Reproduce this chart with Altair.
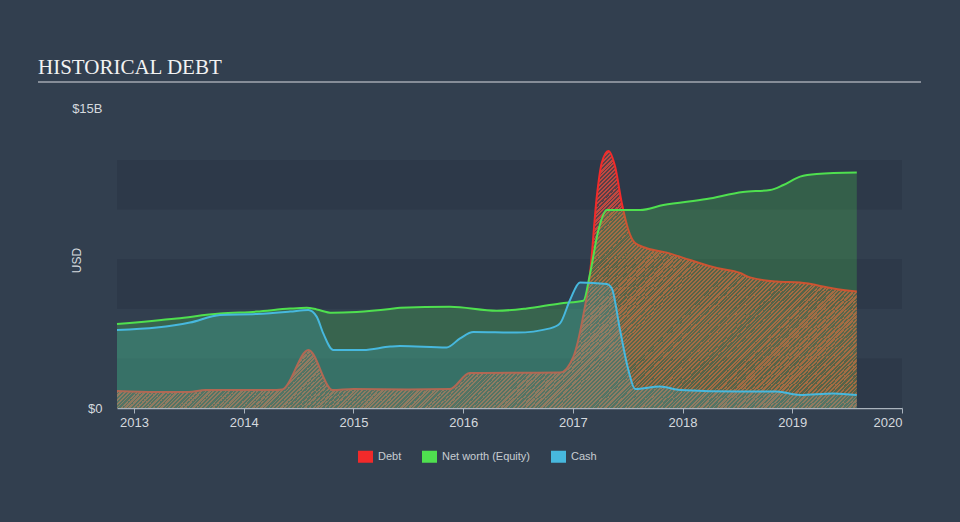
import altair as alt
import pandas as pd

# ---- data (values in USD billions, x in fractional years) ----
debt_years = [2012.845, 2013.2, 2013.5, 2013.65, 2014.3, 2014.35, 2014.59, 2014.81,
              2015.0, 2015.5, 2015.88, 2016.06, 2016.5, 2016.883, 2017.005, 2017.093,
              2017.157, 2017.218, 2017.263, 2017.324, 2017.385, 2017.446, 2017.506,
              2017.567, 2017.674, 2017.856, 2018.068, 2018.312, 2018.524, 2018.615,
              2018.858, 2019.07, 2019.375, 2019.588]
debt_values = [0.85, 0.8, 0.8, 0.9, 0.9, 0.92, 2.9, 0.9,
               0.95, 0.93, 0.95, 1.75, 1.76, 1.77, 2.57, 4.57,
               6.75, 10.57, 12.25, 12.85, 12.07, 10.25, 8.9,
               8.25, 7.99, 7.77, 7.4, 7.0, 6.75, 6.53,
               6.32, 6.27, 5.98, 5.82]

equity_years = [2012.845, 2013.389, 2013.784, 2014.118, 2014.422, 2014.574, 2014.665,
                2014.802, 2015.03, 2015.334, 2015.425, 2015.88, 2016.306, 2016.58,
                2016.883, 2017.096, 2017.157, 2017.233, 2017.309, 2017.613, 2017.825,
                2018.22, 2018.55, 2018.798, 2018.919, 2019.071, 2019.223, 2019.588]
equity_values = [4.2, 4.48, 4.72, 4.82, 4.97, 5.01, 4.93,
                 4.76, 4.8, 4.95, 5.01, 5.06, 4.86, 4.98,
                 5.23, 5.36, 6.73, 8.9, 9.9, 9.9, 10.15,
                 10.45, 10.8, 10.9, 11.15, 11.57, 11.7, 11.77]

cash_years = [2012.845, 2013.207, 2013.51, 2013.784, 2014.118, 2014.422, 2014.589,
              2014.665, 2014.725, 2014.816, 2015.09, 2015.334, 2015.425, 2015.85,
              2015.972, 2016.093, 2016.489, 2016.793, 2016.883, 2016.974, 2017.065,
              2017.309, 2017.355, 2017.43, 2017.506, 2017.567, 2017.795, 2017.977,
              2018.524, 2018.857, 2019.07, 2019.374, 2019.588]
cash_values = [3.9, 4.02, 4.27, 4.65, 4.7, 4.82, 4.9,
               4.57, 3.73, 2.9, 2.9, 3.07, 3.1, 3.03,
               3.48, 3.8, 3.77, 3.98, 4.23, 5.4, 6.28,
               6.2, 5.98, 3.9, 1.9, 0.95, 1.07, 0.9,
               0.82, 0.82, 0.65, 0.73, 0.65]

series_names = ["Debt", "Net worth (Equity)", "Cash"]
series_colors = ["#f22a2a", "#4fe04f", "#47b8de"]
year_ticks = [2013, 2014, 2015, 2016, 2017, 2018, 2019, 2020]
y_ticks = [0, 15]
band_low = [0, 4.96, 9.92]
band_high = [2.48, 7.44, 12.4]

rows = []
for name, xs, vs in zip(series_names,
                        [debt_years, equity_years, cash_years],
                        [debt_values, equity_values, cash_values]):
    for xv, vv in zip(xs, vs):
        rows.append({"year": xv, "value": vv, "series": name})
df = pd.DataFrame(rows)
bands_df = pd.DataFrame({"low": band_low, "high": band_high})
title_df = pd.DataFrame({"t": ["HISTORICAL DEBT"]})

W, H = 785, 300
FONT = "Liberation Sans"
X_MIN, X_MAX, Y_MAX = 2012.845, 2020.0, 15

# ---- diagonal hatch for the debt area (a striped linear gradient) ----
# gradient coordinates are relative to the area's bounding box
bbox_w = (max(debt_years) - min(debt_years)) / (X_MAX - X_MIN) * W
bbox_h = max(debt_values) / Y_MAX * H
aspect = bbox_h / bbox_w
gx2 = (1 + aspect) / (1 + aspect ** 2)
gy2 = aspect * gx2
span_px = bbox_w + bbox_h          # horizontal pixels covered by t in [0, 1]
PERIOD_PX = 4.0
STRIPE = "rgba(232,78,62,0.78)"
GAP = "rgba(232,78,62,0.24)"
stops = []
t = 0.0
step = PERIOD_PX / span_px
while t < 1.0:
    t1 = min(t + 0.5 * step, 1.0)
    t2 = min(t + step, 1.0)
    stops += [alt.GradientStop(offset=t, color=STRIPE),
              alt.GradientStop(offset=t1, color=STRIPE),
              alt.GradientStop(offset=t1, color=GAP),
              alt.GradientStop(offset=t2, color=GAP)]
    t += step
hatch = alt.LinearGradient(gradient="linear", stops=stops,
                           x1=0, y1=0, x2=gx2, y2=gy2)

xscale = alt.Scale(domain=[X_MIN, X_MAX], nice=False, zero=False)
yscale = alt.Scale(domain=[0, Y_MAX], nice=False)

xaxis = alt.Axis(values=year_ticks, format="d", grid=False, domainColor="#aab3bd",
                 domainWidth=1.5, tickColor="#aab3bd", tickSize=5, tickWidth=1,
                 labelFontSize=13, labelColor="#d5d9de", labelFont=FONT,
                 labelPadding=3, labelFlush=True, title=None)
yaxis = alt.Axis(values=y_ticks,
                 labelExpr="datum.value == 0 ? '$0' : '$' + datum.value + 'B'",
                 domain=False, ticks=False, grid=False, labelPadding=15,
                 labelFontSize=13, labelColor="#d5d9de", labelFont=FONT,
                 title="USD", titleFont=FONT, titleFontSize=12,
                 titleFontWeight="normal", titleColor="#d5d9de",
                 titleX=-34, titleY=152, titleAngle=270, titleAlign="center")

X = alt.X("year:Q", scale=xscale, axis=xaxis)
Y = alt.Y("value:Q", scale=yscale, axis=yaxis)

legend = alt.Legend(title=None, orient="none", legendX=241, legendY=341,
                    direction="horizontal",
                    symbolType="M-1,-0.8L1,-0.8L1,0.8L-1,0.8Z", symbolSize=225,
                    symbolOpacity=1, symbolStrokeWidth=0,
                    labelFont=FONT, labelFontSize=11, labelColor="#c8cdd2",
                    labelOffset=5, columnPadding=20, padding=0)
cscale = alt.Scale(domain=series_names, range=series_colors)
color_legend = alt.Color("series:N", scale=cscale, legend=legend)

base = alt.Chart(df)

bands = alt.Chart(bands_df).mark_rect(color="#2d3949").encode(
    x=alt.value(0), x2=alt.value(W),
    y=alt.Y("low:Q", scale=yscale, axis=yaxis), y2="high:Q")

# invisible filled points that carry the legend
legend_layer = base.mark_point(filled=True, opacity=0).encode(
    x=X, y=Y, color=color_legend)

debt_area = base.transform_filter(alt.datum.series == "Debt").mark_area(
    interpolate="monotone", fill=hatch, opacity=1).encode(x=X, y=Y)
debt_line = base.transform_filter(alt.datum.series == "Debt").mark_line(
    interpolate="monotone", strokeWidth=2).encode(x=X, y=Y, color=color_legend)
eq_area = base.transform_filter(alt.datum.series == "Net worth (Equity)").mark_area(
    interpolate="monotone", opacity=0.23).encode(x=X, y=Y, color=color_legend)
cash_area = base.transform_filter(alt.datum.series == "Cash").mark_area(
    interpolate="monotone", opacity=0.2).encode(x=X, y=Y, color=color_legend)
eq_line = base.transform_filter(alt.datum.series == "Net worth (Equity)").mark_line(
    interpolate="monotone", strokeWidth=2).encode(x=X, y=Y, color=color_legend)
cash_line = base.transform_filter(alt.datum.series == "Cash").mark_line(
    interpolate="monotone", strokeWidth=2).encode(x=X, y=Y, color=color_legend)

title_text = alt.Chart(title_df).mark_text(
    font="Liberation Serif", fontSize=21, color="#f2f2f2", align="left",
    baseline="alphabetic").encode(x=alt.value(-79), y=alt.value(-34), text="t:N")
title_rule = alt.Chart(title_df).mark_rule(color="#a3a9b0", strokeWidth=1.5).encode(
    x=alt.value(-79), x2=alt.value(804), y=alt.value(-26))

chart = alt.layer(bands, legend_layer, debt_area, debt_line, eq_area, cash_area,
                  eq_line, cash_line, title_text, title_rule).properties(
    width=W, height=H,
    autosize=alt.AutoSizeParams(type="none"),
    padding={"left": 117, "top": 108, "right": 58, "bottom": 114},
    background="#323f4f",
).configure_view(stroke=None)

chart.save("out.html", embed_options={"renderer": "svg", "actions": False})
